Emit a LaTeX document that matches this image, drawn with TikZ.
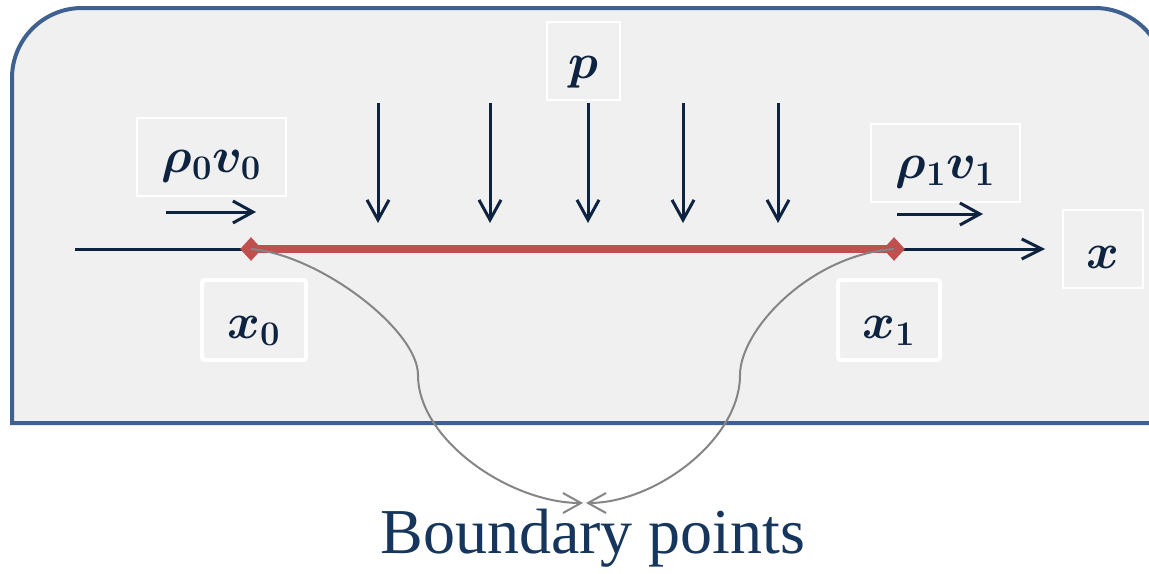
\documentclass[tikz,border=0pt]{standalone}
\usepackage{fontspec}
\setmainfont{Liberation Serif}
\usepackage{bm}
\usetikzlibrary{arrows.meta,shapes.geometric,positioning}
\definecolor{frameblue}{HTML}{3F6190}
\definecolor{panel}{HTML}{F0F0F0}
\definecolor{ink}{HTML}{0E2340}
\definecolor{rodred}{HTML}{C0504D}
\definecolor{linkgray}{HTML}{858585}
\definecolor{captionblue}{HTML}{17365D}
\tikzset{
  panelframe/.style={draw=frameblue, fill=panel, line width=2pt},
  lblbox/.style={rectangle, draw=white, line width=0.8pt, inner sep=0pt},
  thickbox/.style={lblbox, line width=2pt, rounded corners=1.5pt},
  lbltext/.style={font=\fontsize{25}{30}\selectfont, text=ink, inner sep=0pt},
  axis/.style={-{Straight Barb[length=10pt,width=10pt]}, draw=ink, line width=1.5pt},
  load/.style={-{Straight Barb[length=10pt,width=11pt]}, draw=ink, line width=1.5pt},
  rod/.style={draw=rodred, line width=4pt,
              preaction={draw=black, opacity=0.2, transform canvas={shift={(0.8pt,-1.5pt)}}}},
  endpt/.style={diamond, fill=rodred, inner sep=0pt, minimum width=11pt, minimum height=12pt},
  link/.style={-{Straight Barb[length=9pt,width=10pt]}, draw=linkgray, line width=1pt},
  caption/.style={font=\fontsize{32}{38}\selectfont, text=captionblue}
}
\begin{document}
\begin{tikzpicture}[x=0.5pt, y=-0.5pt]
  \useasboundingbox (0,0) rectangle (1149,573);
  \clip (0,0) rectangle (1149,573);
  % panel
  \path[panelframe] (12,423) [rounded corners=35pt] -- (12,8) -- (1165,8) [sharp corners] -- (1165,423) -- cycle;

  % label frames
  \node[lblbox, minimum width=36.5pt, minimum height=39pt] (plbl) at (583.5,61)
    {}; \node[lbltext] at ([yshift=-5.5pt]plbl.center) {$\bm{p}$};
  \node[lblbox, minimum width=74.5pt, minimum height=39pt] (flux0) at (211.5,157) {};
  \node[lbltext] at ([yshift=-4.5pt]flux0.center) {$\bm{\rho_0 v_0}$};
  \node[lblbox, minimum width=74.5pt, minimum height=39pt] (flux1) at (945.5,163) {};
  \node[lbltext] at ([yshift=-4.5pt]flux1.center) {$\bm{\rho_1 v_1}$};
  \node[lblbox, minimum width=40pt, minimum height=39pt] (xlbl) at (1103,249) {};
  \node[lbltext] at ([yshift=-4pt]xlbl.center) {$\bm{x}$};
  \node[thickbox, minimum width=52pt, minimum height=40pt] (x0lbl) at (254,320) {};
  \node[lbltext] at ([yshift=-5.5pt]x0lbl.center) {$\bm{x_0}$};
  \node[thickbox, minimum width=51pt, minimum height=40pt] (x1lbl) at (889,320) {};
  \node[lbltext] at ([yshift=-5.5pt]x1lbl.center) {$\bm{x_1}$};

  % axis and rod
  \coordinate (axstart) at (75,249);
  \coordinate (axend) at (1045,249);
  \draw[axis] (axstart) -- (axend);
  \coordinate (left) at (251,249);
  \coordinate (right) at (894,249);
  \draw[rod] (left) -- (right);
  \node[endpt] (x0pt) at (left) {};
  \node[endpt] (x1pt) at (right) {};

  % distributed load
  \foreach \xx [count=\i] in {378,490,588,683,778} {
    \coordinate (ltop\i) at (\xx,103);
    \coordinate (lbot\i) at (\xx,223);
    \draw[load] (ltop\i) -- (lbot\i);
  }

  % inflow and outflow
  \coordinate (in0) at (166,212);
  \coordinate (in1) at (256,212);
  \draw[load] (in0) -- (in1);
  \coordinate (out0) at (897,214);
  \coordinate (out1) at (983,214);
  \draw[load] (out0) -- (out1);

  % boundary points
  \node[caption] (bnd) at (593,538) {Boundary points};
  \coordinate (meetL) at (583,503);
  \coordinate (meetR) at (586,503);
  \draw[link] (x0pt.center) .. controls (320,255) and (418,330) .. (418,375)
    .. controls (418,440) and (510,503) .. (meetL);
  \draw[link] (x1pt.center) .. controls (810,255) and (740,330) .. (740,375)
    .. controls (740,440) and (655,503) .. (meetR);
\end{tikzpicture}
\end{document}
